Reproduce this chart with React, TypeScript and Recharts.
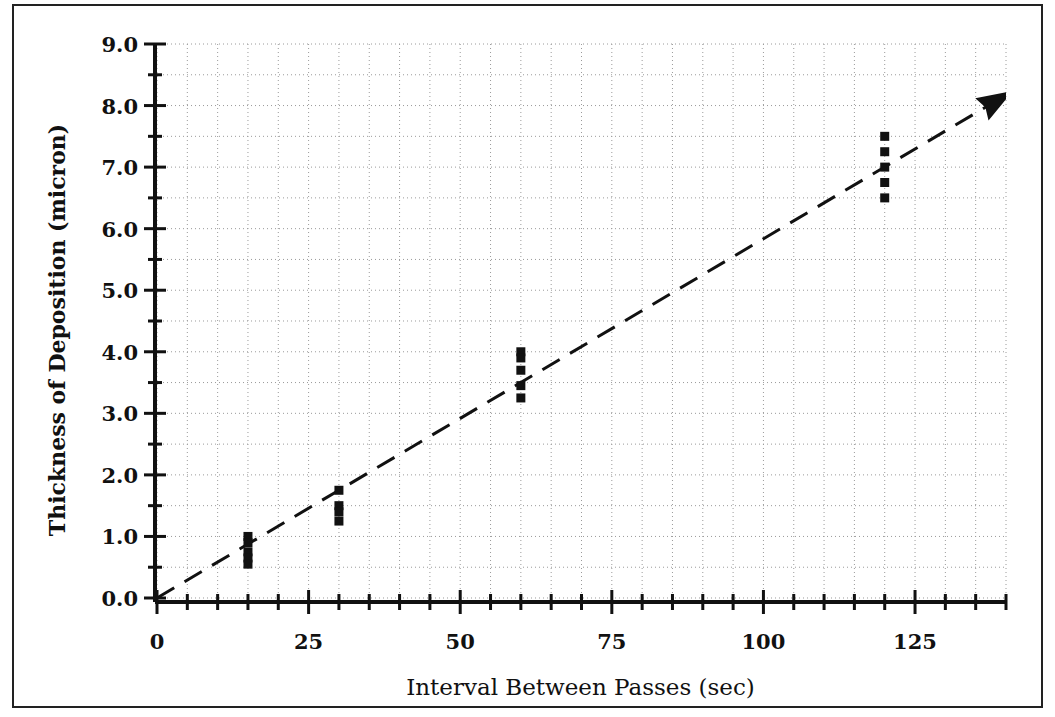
import React from "react"
import {
  ComposedChart,
  Scatter,
  Line,
  XAxis,
  YAxis,
  CartesianGrid,
} from "recharts"

// sample thickness readings per interval (sec)
const intervals = [15, 30, 60, 120]
const thickness15 = [1.0, 0.9, 0.75, 0.65, 0.55]
const thickness30 = [1.75, 1.5, 1.4, 1.25]
const thickness60 = [4.0, 3.9, 3.7, 3.45, 3.25]
const thickness120 = [7.5, 7.25, 7.0, 6.75, 6.5]

// dashed trend arrow
const trendX = [0, 140]
const trendY = [0, 8.17]

const xTicks = [0, 5, 10, 15, 20, 25, 30, 35, 40, 45, 50, 55, 60, 65, 70, 75, 80, 85, 90, 95, 100, 105, 110, 115, 120, 125, 130, 135, 140]
const xLabels = [0, 25, 50, 75, 100, 125]
const yTicks = [0, 0.5, 1, 1.5, 2, 2.5, 3, 3.5, 4, 4.5, 5, 5.5, 6, 6.5, 7, 7.5, 8, 8.5, 9]
const yLabels = [0, 1, 2, 3, 4, 5, 6, 7, 8, 9]

const W = 1055
const H = 717
const FONT = "'DejaVu Serif', serif"

const groups = [thickness15, thickness30, thickness60, thickness120]
const points = groups.flatMap((vals, i) => vals.map((y) => ({ x: intervals[i], y })))
const trend = trendX.map((x, i) => ({ x, y: trendY[i] }))

function XTick(props: any) {
  const { x, y, payload } = props
  const major = xLabels.includes(payload.value)
  const len = major ? 12 : 8
  return (
    <g>
      <line x1={x} x2={x} y1={y - len} y2={y + len} stroke="#111" strokeWidth={3} />
      {major ? (
        <text x={x} y={y + 47} textAnchor="middle" fontFamily={FONT} fontWeight="bold" fontSize={21} fill="#111">
          {payload.value}
        </text>
      ) : null}
    </g>
  )
}

function YTick(props: any) {
  const { x, y, payload } = props
  const major = yLabels.includes(payload.value)
  const len = major ? 11 : 7
  return (
    <g>
      <line x1={x - len} x2={x + len} y1={y} y2={y} stroke="#111" strokeWidth={3} />
      {major ? (
        <text x={x - 17} y={y + 8} textAnchor="end" fontFamily={FONT} fontWeight="bold" fontSize={21} fill="#111">
          {payload.value.toFixed(1)}
        </text>
      ) : null}
    </g>
  )
}

function XTitle(props: any) {
  const vb = props.viewBox || { x: 155, y: 602, width: 851, height: 115 }
  return (
    <text x={vb.x + vb.width / 2} y={vb.y + 93} textAnchor="middle" fontFamily={FONT} fontSize={23} fill="#111">
      Interval Between Passes (sec)
    </text>
  )
}

function YTitle(props: any) {
  const vb = props.viewBox || { x: 0, y: 44, width: 155, height: 558 }
  const cx = vb.x + 57
  const cy = vb.y + vb.height / 2 + 7
  return (
    <text
      x={cx}
      y={cy}
      transform={`rotate(-90 ${cx} ${cy})`}
      textAnchor="middle"
      dominantBaseline="central"
      fontFamily={FONT}
      fontWeight="bold"
      fontSize={22}
      fill="#111"
    >
      Thickness of Deposition (micron)
    </text>
  )
}

function Square(props: any) {
  const { cx, cy } = props
  const s = 9
  return <rect x={cx - s / 2} y={cy - s / 2} width={s} height={s} fill="#111" />
}

export default function App() {
  return (
    <div style={{ position: "absolute", left: 0, top: 0, width: W, height: H, background: "#fff" }}>
      <div
        style={{
          position: "absolute",
          left: 12,
          top: 4,
          width: 1027,
          height: 700,
          border: "2px solid #222",
        }}
      />
      <ComposedChart
        width={W}
        height={H}
        margin={{ top: 44, right: 49, bottom: 0, left: 0 }}
        style={{ position: "absolute", left: 0, top: 0 }}
      >
        <defs>
          <marker
            id="arrowHead"
            markerUnits="userSpaceOnUse"
            markerWidth={40}
            markerHeight={28}
            refX={28}
            refY={13}
            orient="auto"
          >
            <path d="M0,0 L36,13 L0,26 L4,13 Z" fill="#111" />
          </marker>
        </defs>
        <CartesianGrid
          stroke="#9a9a9a"
          strokeDasharray="1 3"
          strokeWidth={1}
          horizontalValues={yTicks}
          verticalValues={xTicks}
        />
        <XAxis
          type="number"
          dataKey="x"
          domain={[-0.33, 140]}
          ticks={xTicks}
          interval={0}
          allowDataOverflow
          height={115}
          tickSize={0}
          tickMargin={0}
          tickLine={false}
          tick={<XTick />}
          axisLine={{ stroke: "#111", strokeWidth: 4 }}
          label={{ content: XTitle }}
        />
        <YAxis
          type="number"
          dataKey="y"
          domain={[-0.065, 9]}
          ticks={yTicks}
          interval={0}
          allowDataOverflow
          width={155}
          tickSize={0}
          tickMargin={0}
          tickLine={false}
          tick={<YTick />}
          axisLine={{ stroke: "#111", strokeWidth: 4 }}
          label={{ content: YTitle }}
        />
        <Line
          data={trend}
          dataKey="y"
          type="linear"
          stroke="#111"
          strokeWidth={3}
          strokeDasharray="20 12"
          dot={false}
          activeDot={false}
          markerEnd="url(#arrowHead)"
          isAnimationActive={false}
        />
        <Scatter data={points} dataKey="y" shape={<Square />} isAnimationActive={false} />
      </ComposedChart>
    </div>
  )
}
